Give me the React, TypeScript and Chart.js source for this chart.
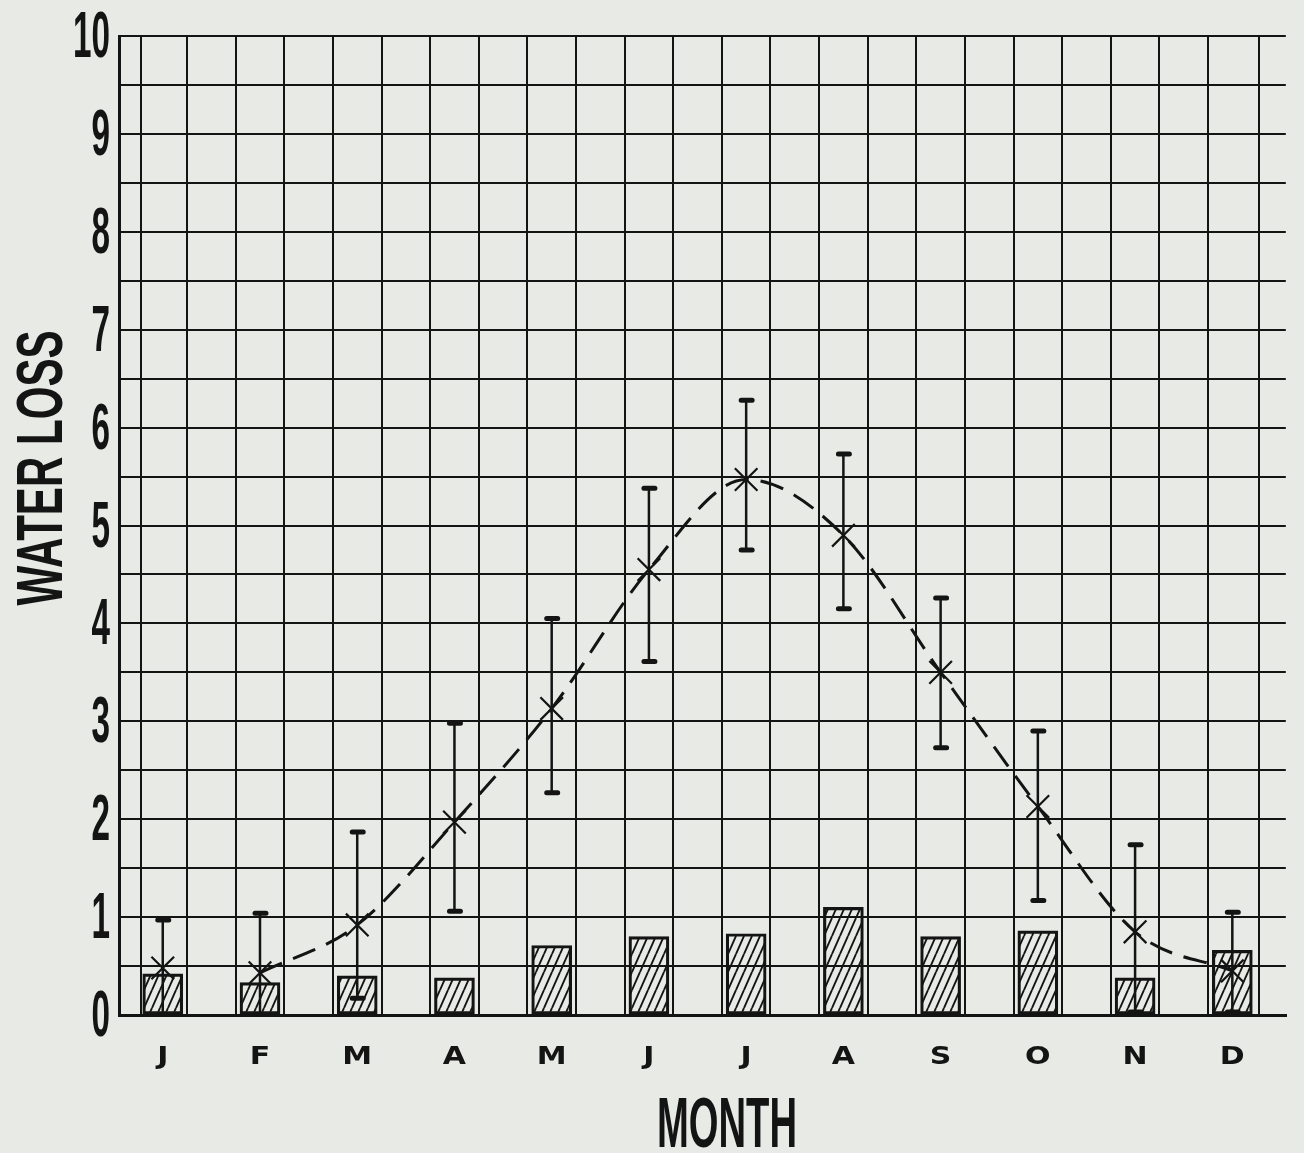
import React, { useEffect, useRef } from 'react';
import { Chart, registerables } from 'chart.js';

Chart.register(...registerables);

// ---- data ----
const months = ['J', 'F', 'M', 'A', 'M', 'J', 'J', 'A', 'S', 'O', 'N', 'D'];
const meanLoss = [0.48, 0.43, 0.92, 1.97, 3.13, 4.55, 5.47, 4.9, 3.5, 2.13, 0.85, 0.45];
// dashed curve is only drawn from February onwards
const curveLoss = [null, 0.43, 0.92, 1.97, 3.13, 4.55, 5.47, 4.9, 3.5, 2.13, 0.85, 0.45];
const errHigh = [0.97, 1.04, 1.87, 2.98, 4.05, 5.38, 6.28, 5.73, 4.26, 2.9, 1.74, 1.05];
const errLow = [-0.06, -0.12, 0.17, 1.06, 2.27, 3.61, 4.75, 4.15, 2.73, 1.17, 0.03, 0.03];
const barLoss = [0.42, 0.33, 0.4, 0.38, 0.71, 0.8, 0.83, 1.1, 0.8, 0.86, 0.38, 0.66];
const yTickValues = [0, 1, 2, 3, 4, 5, 6, 7, 8, 9, 10];
const yTickLabels = ['0', '1', '2', '3', '4', '5', '6', '7', '8', '9', '10'];
const yTitle = 'WATER LOSS';
const xTitle = 'MONTH';

const INK = '#141414';
const PAPER = '#e8eae5';

function makeHatch(): CanvasPattern | string {
  const c = document.createElement('canvas');
  c.width = 8;
  c.height = 18;
  const g = c.getContext('2d');
  if (!g) return 'rgba(0,0,0,0.2)';
  g.strokeStyle = INK;
  g.lineWidth = 1.9;
  g.beginPath();
  for (const off of [-8, 0, 8]) {
    g.moveTo(off, 18);
    g.lineTo(off + 8, 0);
  }
  g.stroke();
  return g.createPattern(c, 'repeat') || INK;
}

const errorBarPlugin = {
  id: 'errorBars',
  afterDatasetsDraw(chart: any) {
    const { ctx, chartArea, scales } = chart;
    const xs = scales.x;
    const ys = scales.y;
    ctx.save();
    ctx.beginPath();
    ctx.rect(chartArea.left, chartArea.top, chartArea.right - chartArea.left, chartArea.bottom - chartArea.top + 1);
    ctx.clip();
    ctx.strokeStyle = INK;
    for (let i = 0; i < months.length; i++) {
      const x = xs.getPixelForValue(i);
      const yh = ys.getPixelForValue(errHigh[i]);
      const yl = ys.getPixelForValue(errLow[i]);
      ctx.lineCap = 'butt';
      ctx.lineWidth = 2.5;
      ctx.beginPath();
      ctx.moveTo(x, yh);
      ctx.lineTo(x, yl);
      ctx.stroke();
      ctx.lineCap = 'round';
      ctx.lineWidth = 5;
      ctx.beginPath();
      ctx.moveTo(x - 5, yh);
      ctx.lineTo(x + 6, yh);
      ctx.moveTo(x - 5, yl);
      ctx.lineTo(x + 6, yl);
      ctx.stroke();
    }
    ctx.restore();
  },
};

const textPlugin = {
  id: 'handLettering',
  afterDraw(chart: any) {
    const { ctx, scales } = chart;
    const xs = scales.x;
    const ys = scales.y;
    ctx.save();
    ctx.fillStyle = INK;

    // y tick labels (condensed)
    ctx.font = 'bold 64px "Liberation Sans", Arial, sans-serif';
    ctx.textAlign = 'right';
    ctx.textBaseline = 'alphabetic';
    yTickValues.forEach((v, i) => {
      const y = ys.getPixelForValue(v);
      ctx.save();
      ctx.translate(110, y + 21);
      ctx.scale(0.52, 1);
      ctx.fillText(yTickLabels[i], 0, 0);
      ctx.restore();
    });

    // month labels (wide)
    ctx.font = 'bold 24px "DejaVu Sans", Verdana, sans-serif';
    ctx.textAlign = 'center';
    months.forEach((m, i) => {
      const x = xs.getPixelForValue(i);
      ctx.save();
      ctx.translate(x, 1064);
      ctx.scale(1.25, 1);
      ctx.fillText(m, 0, 0);
      ctx.restore();
    });

    // y title
    ctx.font = 'bold 64px "Liberation Sans", Arial, sans-serif';
    ctx.textAlign = 'center';
    {
      const w = ctx.measureText(yTitle).width;
      ctx.save();
      ctx.translate(39, 468);
      ctx.rotate(-Math.PI / 2);
      ctx.scale(275 / w, 1);
      ctx.fillText(yTitle, 0, 23);
      ctx.restore();
    }

    // x title
    ctx.font = 'bold 70px "Liberation Sans", Arial, sans-serif';
    {
      const w = ctx.measureText(xTitle).width;
      ctx.save();
      ctx.translate(727, 1147);
      ctx.scale(140 / w, 1);
      ctx.fillText(xTitle, 0, 0);
      ctx.restore();
    }
    ctx.restore();
  },
};

export default function App() {
  const ref = useRef<HTMLCanvasElement | null>(null);

  useEffect(() => {
    const canvas = ref.current;
    if (!canvas) return;
    const hatch = makeHatch();

    const xGrid: number[] = [-0.45];
    for (let v = 0; v <= 11.001; v += 0.5) xGrid.push(Math.round(v * 10) / 10);
    xGrid.push(11.55);
    const yGrid: number[] = [];
    for (let v = 0; v <= 10.001; v += 0.5) yGrid.push(Math.round(v * 10) / 10);

    const chart = new Chart(canvas, {
      data: {
        datasets: [
          {
            type: 'scatter',
            label: 'Mean',
            data: meanLoss.map((v, i) => ({ x: i, y: v })),
            pointStyle: 'crossRot',
            pointRadius: 16,
            pointBorderWidth: 2.2,
            borderColor: INK,
            backgroundColor: INK,
            order: 0,
          } as any,
          {
            type: 'line',
            label: 'Curve',
            data: curveLoss.map((v, i) => ({ x: i, y: v })),
            borderColor: INK,
            borderWidth: 3,
            borderDash: [24, 12],
            pointRadius: 0,
            cubicInterpolationMode: 'monotone',
            spanGaps: false,
            fill: false,
            order: 1,
          } as any,
          {
            type: 'bar',
            label: 'Bars',
            data: barLoss.map((v, i) => ({ x: i, y: v })),
            backgroundColor: hatch as any,
            borderColor: INK,
            borderWidth: 2.5,
            borderSkipped: false,
            barThickness: 40,
            order: 2,
          } as any,
        ],
      },
      options: {
        responsive: false,
        animation: false,
        events: [],
        layout: { padding: { left: 119, top: 36, right: 13, bottom: 138 } },
        plugins: {
          legend: { display: false },
          tooltip: { enabled: false },
          title: { display: false },
        },
        scales: {
          x: {
            type: 'linear',
            min: -0.45,
            max: 11.55,
            offset: false,
            afterBuildTicks: (s: any) => {
              s.ticks = xGrid.map((v) => ({ value: v }));
            },
            ticks: { display: false },
            grid: { color: INK, lineWidth: 2, drawTicks: false },
            border: { display: true, color: INK, width: 3 },
          },
          y: {
            type: 'linear',
            min: 0,
            max: 10,
            afterBuildTicks: (s: any) => {
              s.ticks = yGrid.map((v) => ({ value: v }));
            },
            ticks: { display: false },
            grid: { color: INK, lineWidth: 2, drawTicks: false },
            border: { display: true, color: INK, width: 3 },
          },
        },
      } as any,
      plugins: [errorBarPlugin, textPlugin],
    });

    return () => {
      chart.destroy();
    };
  }, []);

  return (
    <div
      style={{
        position: 'fixed',
        left: 0,
        top: 0,
        width: 1304,
        height: 1153,
        background: PAPER,
      }}
    >
      <canvas ref={ref} width={1304} height={1153} style={{ display: 'block', width: 1304, height: 1153 }} />
    </div>
  );
}
